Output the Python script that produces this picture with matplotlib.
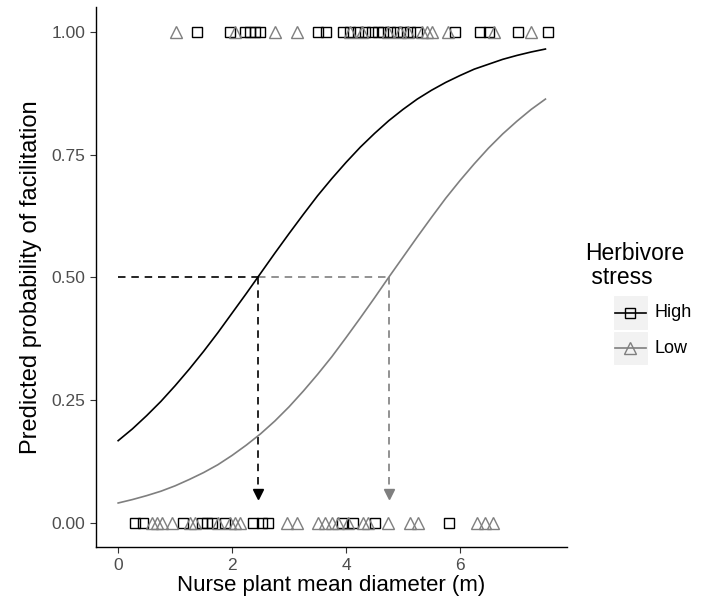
import matplotlib.pyplot as plt
import matplotlib.patches as mpatches
from matplotlib.lines import Line2D
import numpy as np

plt.rcParams['font.family'] = ['Liberation Sans', 'DejaVu Sans']

# fitted curves, every 0.25 m
curve_x = [0.0, 0.25, 0.5, 0.75, 1.0, 1.25, 1.5, 1.75, 2.0, 2.25, 2.5, 2.75, 3.0, 3.25, 3.5, 3.75,
           4.0, 4.25, 4.5, 4.75, 5.0, 5.25, 5.5, 5.75, 6.0, 6.25, 6.5, 6.75, 7.0, 7.25, 7.5]
high_p = [0.167, 0.191, 0.218, 0.247, 0.279, 0.313, 0.349, 0.387, 0.427, 0.467, 0.508, 0.549, 0.589,
          0.628, 0.666, 0.701, 0.734, 0.765, 0.793, 0.819, 0.842, 0.863, 0.881, 0.897, 0.911, 0.924,
          0.934, 0.944, 0.952, 0.959, 0.965]
low_p = [0.040, 0.047, 0.055, 0.064, 0.075, 0.088, 0.102, 0.118, 0.137, 0.158, 0.181, 0.207, 0.236,
         0.268, 0.302, 0.338, 0.377, 0.417, 0.458, 0.500, 0.541, 0.582, 0.622, 0.661, 0.697, 0.731,
         0.763, 0.792, 0.818, 0.842, 0.863]

# observations (facilitation = 1 / 0)
high_1 = [1.39, 1.96, 2.23, 2.32, 2.40, 2.49, 3.51, 3.65, 3.95, 4.07, 4.21, 4.33, 4.46, 4.56, 4.65,
          4.77, 4.89, 5.00, 5.12, 5.25, 5.91, 6.35, 6.51, 7.02, 7.55]
low_1 = [1.02, 2.05, 2.75, 3.14, 4.07, 4.28, 4.74, 4.95, 5.09, 5.33, 5.42, 5.51, 5.79, 6.60, 7.25]
high_0 = [0.30, 0.44, 1.14, 1.47, 1.56, 1.65, 1.88, 2.37, 2.53, 2.63, 3.93, 4.12, 4.51, 5.81]
low_0 = [0.60, 0.68, 0.77, 0.95, 1.26, 1.35, 1.75, 1.96, 2.05, 2.14, 2.96, 3.14, 3.51, 3.63, 3.75,
         3.86, 4.04, 4.30, 4.39, 4.74, 5.12, 5.26, 6.30, 6.44, 6.58]

# diameters at p = 0.5
d50_high = 2.45
d50_low = 4.75
arrow_end = 0.058

grey = '#7f7f7f'
txt = '#4d4d4d'

fig = plt.figure(figsize=(7.16, 6.10), dpi=100)
ax = fig.add_axes([0.134, 0.103, 0.658, 0.885])

ax.plot(curve_x, high_p, color='black', lw=1.2, zorder=3)
ax.plot(curve_x, low_p, color=grey, lw=1.2, zorder=3)

ax.plot(high_1, np.ones(len(high_1)), 's', ms=7, mfc='none', mec='black', mew=1.0, zorder=4)
ax.plot(high_0, np.zeros(len(high_0)), 's', ms=7, mfc='none', mec='black', mew=1.0, zorder=4)
ax.plot(low_1, np.ones(len(low_1)), '^', ms=9, mfc='none', mec=grey, mew=1.0, zorder=4)
ax.plot(low_0, np.zeros(len(low_0)), '^', ms=9, mfc='none', mec=grey, mew=1.0, zorder=4)

dash = (4.5, 3.5)
ax.plot([0, d50_high], [0.5, 0.5], color='black', lw=1.2, dashes=dash)
ax.plot([d50_high, d50_low], [0.5, 0.5], color=grey, lw=1.2, dashes=dash)
ax.plot([d50_high, d50_high], [0.5, arrow_end + 0.01], color='black', lw=1.2, dashes=dash)
ax.plot([d50_low, d50_low], [0.5, arrow_end + 0.01], color=grey, lw=1.2, dashes=dash)
ax.plot([d50_high], [arrow_end], 'v', ms=7, color='black')
ax.plot([d50_low], [arrow_end], 'v', ms=7, color=grey)

ax.set_xlim(-0.39, 7.88)
ax.set_ylim(-0.05, 1.05)
ax.set_xticks([0, 2, 4, 6])
ax.set_yticks([0, 0.25, 0.5, 0.75, 1.0])
ax.set_yticklabels(['0.00', '0.25', '0.50', '0.75', '1.00'])
for s in ['top', 'right']:
    ax.spines[s].set_visible(False)
for s in ['left', 'bottom']:
    ax.spines[s].set_linewidth(1.0)
ax.tick_params(colors='#333333', labelcolor=txt, labelsize=12.5, length=4, width=0.8)
ax.set_xlabel('Nurse plant mean diameter (m)', fontsize=16, color='black', labelpad=2)
ax.set_ylabel('Predicted probability of facilitation', fontsize=17, color='black', labelpad=7)

# legend drawn by hand, ggplot style
fig.text(0.817, 0.565, 'Herbivore\n stress', fontsize=16.5, ha='left', va='center', linespacing=1.05)
keys = [('High', 'black', 's', 7), ('Low', grey, '^', 9)]
for i, (name, col, mk, ms) in enumerate(keys):
    y0 = 0.459 - i * 0.058
    fig.patches.append(mpatches.Rectangle((0.856, y0), 0.049, 0.057, transform=fig.transFigure,
                                          facecolor='#f2f2f2', edgecolor='white', lw=0.8))
    yc = y0 + 0.0285
    fig.lines.append(Line2D([0.859, 0.902], [yc, yc], transform=fig.transFigure, color=col, lw=1.2))
    fig.lines.append(Line2D([0.8805], [yc], transform=fig.transFigure, marker=mk, ms=ms,
                            mfc='none', mec=col, mew=1.0, color=col))
    fig.text(0.914, yc, name, fontsize=13, ha='left', va='center')

plt.savefig('out.png', dpi=100)
